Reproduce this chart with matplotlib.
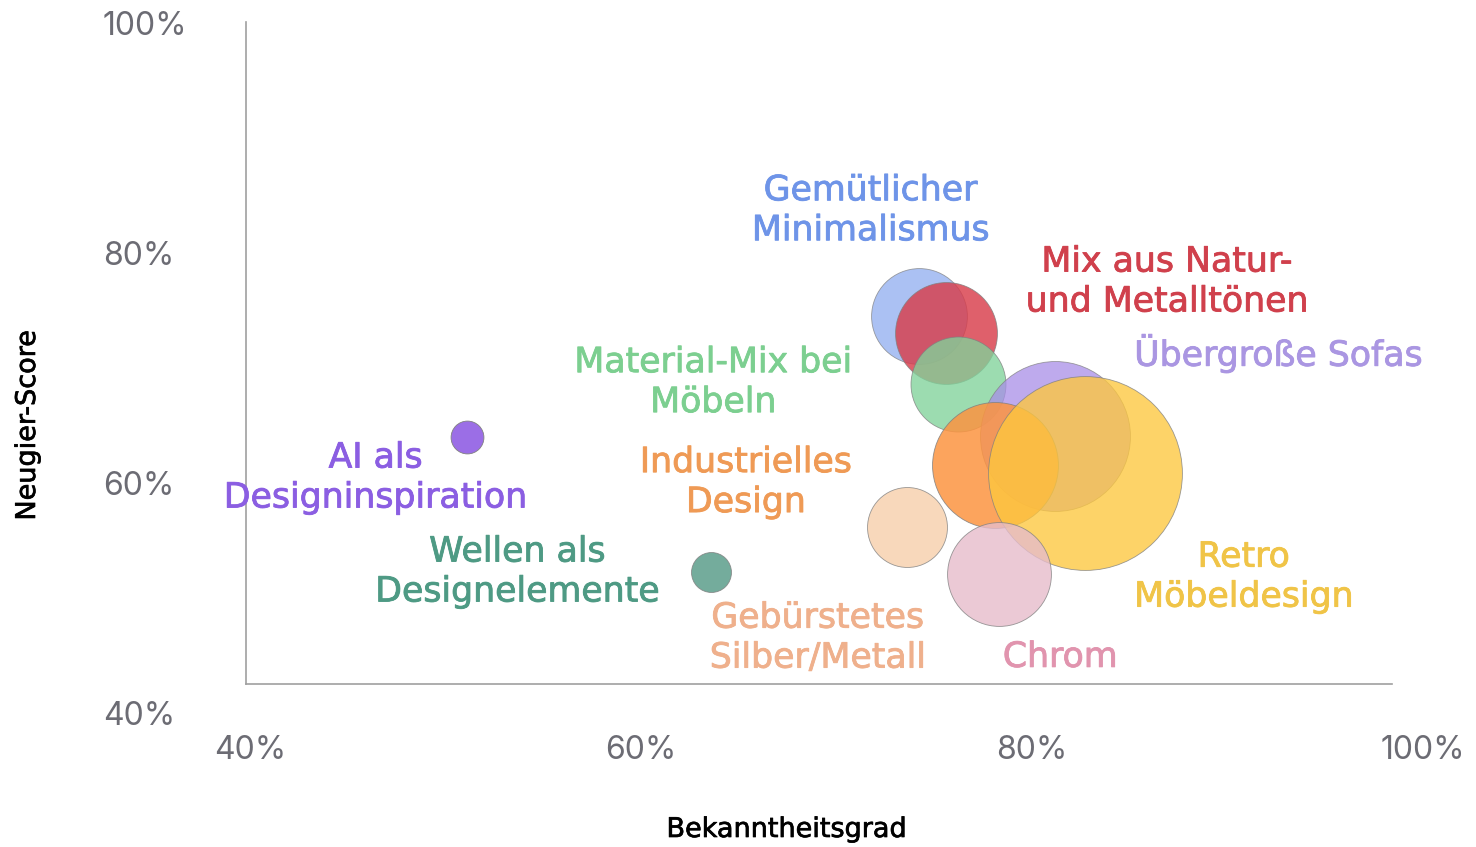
import matplotlib
matplotlib.use('Agg')
from matplotlib import pyplot as plt
from matplotlib import patheffects as pe

# Daten: Bekanntheitsgrad (x, %), Neugier-Score (y, %), relative Blasengröße
trends = ['Gemütlicher\nMinimalismus', 'Mix aus Natur-\nund Metalltönen', 'Material-Mix bei\nMöbeln',
          'Übergroße Sofas', 'Industrielles\nDesign', 'Retro\nMöbeldesign', 'Chrom',
          'Gebürstetes\nSilber/Metall', 'AI als\nDesigninspiration', 'Wellen als\nDesignelemente']
bekanntheit = [74.2, 75.6, 76.2, 81.2, 78.1, 82.7, 78.3, 73.6, 51.1, 63.6]
neugier = [74.5, 73.0, 68.6, 64.1, 61.6, 60.9, 52.1, 56.2, 64.0, 52.3]
groesse = [23.0, 26.0, 22.6, 56.3, 39.7, 94.1, 27.0, 16.0, 2.7, 4.0]

# Stil
bubble_colors = ['#8fadf0', '#d83d4b', '#80d39a', '#a88ee8', '#fc9440', '#fdc73e', '#e6bccb',
                 '#f7cfaa', '#9b6ee6', '#5c9e8b']
bubble_alpha = [0.75, 0.82, 0.78, 0.75, 0.85, 0.78, 0.8, 0.8, 1.0, 0.85]
text_colors = ['#6e94e8', '#d0404c', '#7ccf90', '#aa96e2', '#ef9a55', '#f0c447', '#e194ae',
               '#efb08c', '#8b5ee2', '#4e9a84']
# Versatz der Beschriftung relativ zur Blase (Punkte)
label_offsets = [(-34.6, 76.3), (159.1, 37.4), (-176.0, 1.4), (160.6, 59.8), (-179.3, -12.6),
                 (114.5, -74.9), (44.3, -59.8), (-64.1, -79.9), (-65.9, -29.2), (-139.7, 0.0)]

fig = plt.figure(figsize=(14.76, 8.47), dpi=100)
ax = fig.add_axes([0.1429, 0.15142, 0.8477, 0.83501])

for i in range(len(trends)):
    ax.scatter(bekanntheit[i], neugier[i], s=groesse[i] * 207, color=bubble_colors[i],
               alpha=bubble_alpha[i], edgecolors=(0.5, 0.5, 0.5, 0.18), linewidths=0.6,
               zorder=2 + i)
    ax.annotate(trends[i], (bekanntheit[i], neugier[i]), xytext=label_offsets[i],
                textcoords='offset points', ha='center', va='center', multialignment='center',
                fontsize=25, color=text_colors[i], family='DejaVu Sans', linespacing=1.22,
                zorder=20, path_effects=[pe.withStroke(linewidth=0.6, foreground=text_colors[i])])

ax.set_xlim(38, 102)
ax.set_ylim(39.5, 101)

# Achsenlinien
for side in ['top', 'right']:
    ax.spines[side].set_visible(False)
ax.spines['left'].set_position(('data', 39.8))
ax.spines['left'].set_bounds(42.5, 100.1)
ax.spines['bottom'].set_position(('data', 42.5))
ax.spines['bottom'].set_bounds(39.8, 98.4)
for side in ['left', 'bottom']:
    ax.spines[side].set_color('#a0a0a0')
    ax.spines[side].set_linewidth(1.2)

ticks = [40, 60, 80, 100]
ax.set_xticks(ticks)
ax.set_xticklabels([f'{t}%' for t in ticks])
ax.set_yticks(ticks)
ax.set_yticklabels([f'{t}%' for t in ticks])
ax.tick_params(axis='both', length=0, labelsize=23, labelcolor='#6c6c74')
ax.tick_params(axis='x', pad=36.5)
ax.tick_params(axis='y', pad=103)
for lbl in ax.get_yticklabels():
    lbl.set_horizontalalignment('left')
for lbl in ax.get_xticklabels() + ax.get_yticklabels():
    lbl.set_family('Inter')

axis_fx = [pe.withStroke(linewidth=0.5, foreground='black')]
ax.set_xlabel('Bekanntheitsgrad', fontsize=19.5, family='DejaVu Sans', color='black', va='center',
              path_effects=axis_fx)
ax.xaxis.set_label_coords(0.4604, -0.1573)
ax.set_ylabel('Neugier-Score', fontsize=19.5, family='DejaVu Sans', color='black', va='center',
              path_effects=axis_fx)
ax.yaxis.set_label_coords(-0.1462, 0.4153)

fig.savefig('out.png', dpi=100)
